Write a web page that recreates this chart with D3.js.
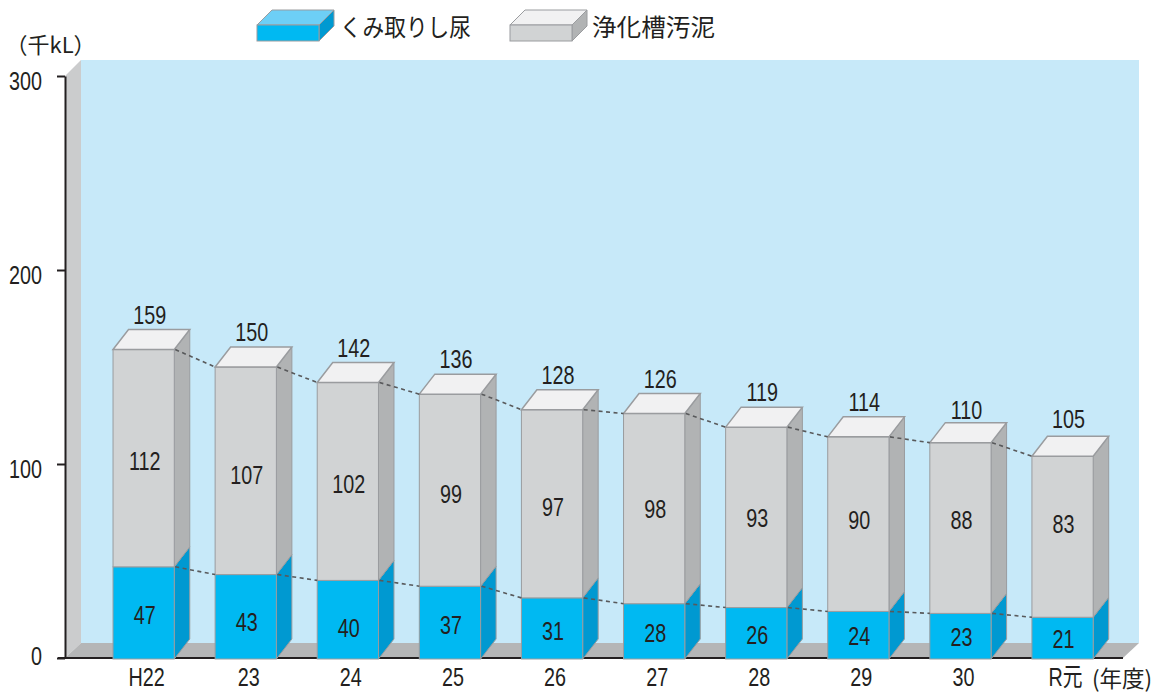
<!DOCTYPE html>
<html>
<head>
<meta charset="utf-8">
<script src="https://cdnjs.cloudflare.com/ajax/libs/d3/7.8.5/d3.min.js"></script>
<style>
  html, body { margin: 0; padding: 0; background: #fff; }
  svg { display: block; }
  text { fill: #231f20; font-family: "Liberation Sans", "Noto Sans CJK JP", sans-serif; font-size: 26px; }
  .jp { font-family: "Noto Sans CJK JP", sans-serif; }
</style>
</head>
<body>
<svg width="1163" height="693"></svg>
<script>
// values as printed on the chart
const categories = ['H22', '23', '24', '25', '26', '27', '28', '29', '30', 'R元']
const kumitori = [47, 43, 40, 37, 31, 28, 26, 24, 23, 21]
const joukasou = [112, 107, 102, 99, 97, 98, 93, 90, 88, 83]
const totals = [159, 150, 142, 136, 128, 126, 119, 114, 110, 105]
const yTicks = [0, 100, 200, 300]

const seriesKeys = ['kumitori', 'joukasou']
const seriesNames = { kumitori: 'くみ取りし尿', joukasou: '浄化槽汚泥' }
const colors = {
    kumitori: { front: '#00b9f2', side: '#0099d1', top: '#6dcff6' },
    joukasou: { front: '#d1d3d4', side: '#b1b3b4', top: '#f1f1f2' }
}
const edge = '#9a9c9f'
// the labels are not quite centred in the original, vertical offset per bar
const labelShift = {
    kumitori: [1, 4, 7, 1, 2, 1, 1, 0, 0, 0],
    joukasou: [2, 3, 2, 3, 2, -1, 0, -5, -9, -14]
}

const svg = d3.select('svg')
const xScale = d3.scaleBand().domain(categories).range([92.6, 1113.6]).paddingInner(0.4).paddingOuter(0.2)
const yScale = d3.scaleLinear().domain([0, 300]).range([658, 76])

const rows = categories.map((c, i) => ({ cat: c, kumitori: kumitori[i], joukasou: joukasou[i] }))
const stacked = d3.stack().keys(seriesKeys)(rows)

const depthX = 15.5, depthY = 20
const poly = pts => pts.map(p => p.join(',')).join(' ')

// the original uses a condensed face, squeeze Liberation Sans to get it
function narrow(sel) {
    sel.each(function () {
        this.setAttribute('textLength', this.getComputedTextLength() * 0.76)
        this.setAttribute('lengthAdjust', 'spacingAndGlyphs')
    })
}

// walls and floor
const x0 = yScale.range()[0]
svg.append('rect').attr('x', 81).attr('y', 60).attr('width', 1058).attr('height', 583).attr('fill', '#c7e9f9')
svg.append('polygon').attr('points', poly([[65, 76], [81, 60], [81, 643], [65, 658]])).attr('fill', '#cbcccd')
svg.append('polygon').attr('points', poly([[65, 658], [81, 643], [1139, 643], [1123, 658]])).attr('fill', '#b5b6b7')

// axes
const yAxis = d3.axisLeft(yScale).tickValues(yTicks).tickSize(8).tickSizeOuter(0).tickPadding(15)
const yG = svg.append('g').attr('transform', 'translate(65,0)').call(yAxis)
yG.selectAll('path, line').attr('stroke', '#231f20').attr('stroke-width', 2)
yG.selectAll('text').attr('dy', '0.32em').style('font-size', '26px').style('font-family', null)
    .attr('transform', d => 'translate(0,' + (d === 0 ? -2 : 5) + ')')
    .call(narrow)

svg.append('line').attr('x1', 58).attr('x2', 1123).attr('y1', x0).attr('y2', x0)
    .attr('stroke', '#231f20').attr('stroke-width', 2)

const xAxis = d3.axisBottom(xScale).tickSize(0).tickPadding(10)
const xG = svg.append('g').attr('transform', 'translate(3,658)').call(xAxis)
xG.select('.domain').remove()
xG.selectAll('text').style('font-size', '26px').style('font-family', null).call(narrow)

// bars
const bars = svg.append('g')
stacked.forEach(layer => {
    const c = colors[layer.key]
    const g = bars.selectAll('g.' + layer.key).data(layer).join('g').attr('class', layer.key)
    const box = d => {
        const l = xScale(d.data.cat), r = l + xScale.bandwidth()
        return { l, r, t: yScale(d[1]), b: yScale(d[0]) + (d[0] === 0 ? 1 : 0) }
    }
    g.append('polygon').attr('fill', c.side).attr('stroke', edge).attr('stroke-width', 1)
        .attr('points', d => { const b = box(d); return poly([[b.r, b.t], [b.r + depthX, b.t - depthY], [b.r + depthX, b.b - depthY], [b.r, b.b]]) })
    g.append('rect').attr('fill', c.front).attr('stroke', edge).attr('stroke-width', 1)
        .attr('x', d => box(d).l).attr('y', d => box(d).t)
        .attr('width', xScale.bandwidth()).attr('height', d => box(d).b - box(d).t)
    if (layer.key === 'joukasou') {
        g.append('polygon').attr('fill', c.top).attr('stroke', edge).attr('stroke-width', 1.5)
            .attr('points', d => { const b = box(d); return poly([[b.l, b.t], [b.l + depthX, b.t - depthY], [b.r + depthX, b.t - depthY], [b.r, b.t]]) })
    }
    g.append('text').attr('text-anchor', 'middle')
        .attr('x', d => box(d).l + xScale.bandwidth() / 2 + 1)
        .attr('y', (d, i) => (box(d).t + box(d).b) / 2 + 10 + labelShift[layer.key][i])
        .text(d => d[1] - d[0])
        .call(narrow)
})

// dashed trend lines between bars
const segLine = d3.line().x(d => d[0]).y(d => d[1])
stacked.forEach(layer => {
    for (let i = 0; i < layer.length - 1; i++) {
        const a = layer[i], b = layer[i + 1]
        svg.append('path').attr('fill', 'none').attr('stroke', '#58595b').attr('stroke-width', 1.6)
            .attr('stroke-dasharray', '4 3.5')
            .attr('d', segLine([
                [xScale(a.data.cat) + xScale.bandwidth() + 1, yScale(a[1])],
                [xScale(b.data.cat), yScale(b[1])]
            ]))
    }
})

// totals above the bars
svg.append('g').selectAll('text').data(totals).join('text')
    .attr('text-anchor', 'middle')
    .attr('x', (d, i) => xScale(categories[i]) + xScale.bandwidth() / 2 + 6)
    .attr('y', d => yScale(d) - depthY - 6)
    .text(d => d)
    .call(narrow)

// unit labels
svg.append('text').attr('class', 'jp').attr('x', 5.5).attr('y', 53).style('font-size', '22px').text('（千kL）')
svg.append('text').attr('class', 'jp').attr('x', 1092).attr('y', 687).style('font-size', '22.5px').text('(年度)')

// legend
const legendItems = [
    { key: 'kumitori', x: 257, textX: 340, width: 131 },
    { key: 'joukasou', x: 510, textX: 592, width: 123 }
]
legendItems.forEach(item => {
    const c = colors[item.key]
    const g = svg.append('g')
    const l = item.x, r = item.x + 62, t = 25, b = 41, dx = 15, dy = 15
    g.append('polygon').attr('fill', c.top).attr('stroke', edge).attr('points', poly([[l, t], [l + dx, t - dy], [r + dx, t - dy], [r, t]]))
    g.append('polygon').attr('fill', c.side).attr('stroke', edge).attr('points', poly([[r, t], [r + dx, t - dy], [r + dx, b - dy], [r, b]]))
    g.append('rect').attr('fill', c.front).attr('stroke', edge).attr('x', l).attr('y', t).attr('width', 62).attr('height', b - t)
    g.append('text').attr('class', 'jp').attr('x', item.textX).attr('y', 36)
        .attr('textLength', item.width).attr('lengthAdjust', 'spacingAndGlyphs')
        .style('font-size', '24px').text(seriesNames[item.key])
})
</script>
</body>
</html>
